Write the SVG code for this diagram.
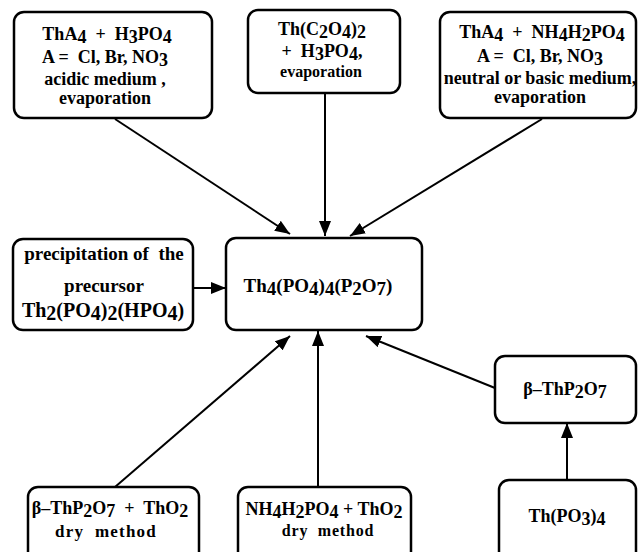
<svg xmlns="http://www.w3.org/2000/svg" width="638" height="552" viewBox="0 0 638 552">
<style>
.box{fill:#fff;stroke:#000;stroke-width:2.5}
text{font-family:"Liberation Serif","DejaVu Serif","Noto Serif",serif;font-weight:bold;fill:#000;text-anchor:middle;font-size:16px}
.f{font-size:18px}
.m{font-size:18px}
.p{font-size:19px}
.q{font-size:20px}
.c{font-size:19px}
.d{font-size:17px;letter-spacing:1.2px}
.ln{stroke:#000;stroke-width:2;fill:none;marker-end:url(#ah)}
</style>
<defs>
<marker id="ah" markerUnits="userSpaceOnUse" markerWidth="16" markerHeight="12" refX="15" refY="6" orient="auto">
<path d="M0,0 L15,6 L0,12 z" fill="#000"/>
</marker>
</defs>
<g id="connectors">
<line class="ln" x1="115" y1="119" x2="290" y2="234"/>
<line class="ln" x1="325" y1="93" x2="325" y2="236"/>
<line class="ln" x1="542" y1="119" x2="350" y2="236"/>
<line class="ln" x1="193" y1="288" x2="226" y2="288"/>
<line class="ln" x1="115" y1="487" x2="290" y2="336"/>
<line class="ln" x1="318" y1="487" x2="318" y2="331"/>
<line class="ln" x1="495" y1="388" x2="366" y2="336"/>
<line class="ln" x1="567" y1="480" x2="567" y2="423"/>
</g>
<g id="n1">
<rect class="box" x="14" y="12" width="198" height="106" rx="10"/>
<text class="f" x="107" y="40" xml:space="preserve">ThA<tspan dy="3">4</tspan><tspan dy="-3">  +  H</tspan><tspan dy="3">3</tspan><tspan dy="-3">PO</tspan><tspan dy="3">4</tspan></text>
<text class="f" x="105" y="63" xml:space="preserve">A =  Cl, Br, NO<tspan dy="3">3</tspan></text>
<text class="m" x="105" y="85">acidic medium ,</text>
<text class="m" x="105" y="104">evaporation</text>
</g>
<g id="n2">
<rect class="box" x="248" y="10" width="152" height="83" rx="10"/>
<text class="f" x="322" y="35">Th(C<tspan dy="3">2</tspan><tspan dy="-3">O</tspan><tspan dy="3">4</tspan><tspan dy="-3">)</tspan><tspan dy="3">2</tspan></text>
<text class="f" x="322" y="57" xml:space="preserve">+  H<tspan dy="3">3</tspan><tspan dy="-3">PO</tspan><tspan dy="3">4</tspan><tspan dy="-3">,</tspan></text>
<text x="321" y="77">evaporation</text>
</g>
<g id="n3">
<rect class="box" x="440" y="12" width="196" height="106" rx="10"/>
<text class="f" x="542" y="38" xml:space="preserve">ThA<tspan dy="3">4</tspan><tspan dy="-3">  +  NH</tspan><tspan dy="3">4</tspan><tspan dy="-3">H</tspan><tspan dy="3">2</tspan><tspan dy="-3">PO</tspan><tspan dy="3">4</tspan></text>
<text class="f" x="540" y="62" xml:space="preserve">A =  Cl, Br, NO<tspan dy="3">3</tspan></text>
<text class="m" x="540" y="84">neutral or basic medium,</text>
<text class="m" x="540" y="103">evaporation</text>
</g>
<g id="n4">
<rect class="box" x="13" y="239" width="180" height="91" rx="10"/>
<text class="p" x="104" y="260" xml:space="preserve">precipitation of  the</text>
<text class="p" x="104" y="292">precursor</text>
<text class="q" x="103" y="317">Th<tspan dy="3">2</tspan><tspan dy="-3">(PO</tspan><tspan dy="3">4</tspan><tspan dy="-3">)</tspan><tspan dy="3">2</tspan><tspan dy="-3">(HPO</tspan><tspan dy="3">4</tspan><tspan dy="-3">)</tspan></text>
</g>
<g id="center">
<rect class="box" x="226" y="238" width="196" height="92" rx="10"/>
<text class="c" x="318" y="292">Th<tspan dy="3">4</tspan><tspan dy="-3">(PO</tspan><tspan dy="3">4</tspan><tspan dy="-3">)</tspan><tspan dy="3">4</tspan><tspan dy="-3">(P</tspan><tspan dy="3">2</tspan><tspan dy="-3">O</tspan><tspan dy="3">7</tspan><tspan dy="-3">)</tspan></text>
</g>
<g id="n5">
<rect class="box" x="28" y="487" width="171" height="80" rx="10"/>
<text class="f" x="110" y="514" xml:space="preserve">β–ThP<tspan dy="3">2</tspan><tspan dy="-3">O</tspan><tspan dy="3">7</tspan><tspan dy="-3">  +  ThO</tspan><tspan dy="3">2</tspan></text>
<text class="d" x="106" y="537" xml:space="preserve">dry  method</text>
</g>
<g id="n6">
<rect class="box" x="238" y="487" width="173" height="80" rx="10"/>
<text class="f" x="324" y="515">NH<tspan dy="3">4</tspan><tspan dy="-3">H</tspan><tspan dy="3">2</tspan><tspan dy="-3">PO</tspan><tspan dy="3">4</tspan><tspan dy="-3"> + ThO</tspan><tspan dy="3">2</tspan></text>
<text x="328" y="536" xml:space="preserve" style="letter-spacing:0.8px">dry  method</text>
</g>
<g id="n7">
<rect class="box" x="495" y="356" width="141" height="67" rx="10"/>
<text class="f" x="565" y="395">β–ThP<tspan dy="3">2</tspan><tspan dy="-3">O</tspan><tspan dy="3">7</tspan></text>
</g>
<g id="n8">
<rect class="box" x="499" y="480" width="137" height="87" rx="10"/>
<text class="f" x="567" y="522">Th(PO<tspan dy="3">3</tspan><tspan dy="-3">)</tspan><tspan dy="3">4</tspan></text>
</g>
</svg>
